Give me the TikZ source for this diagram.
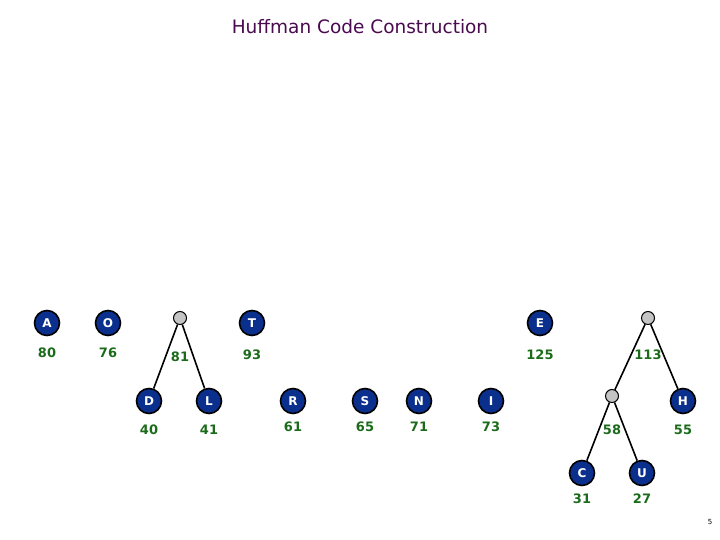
\documentclass[tikz,border=0pt]{standalone}
\usepackage{fontspec}
\setmainfont{DejaVu Sans}
\definecolor{navy}{HTML}{0A2F8C}
\definecolor{num}{HTML}{1B6B1B}
\definecolor{ttl}{HTML}{4A0A50}
\definecolor{gry}{HTML}{C4C4C4}
\begin{document}
\begin{tikzpicture}[x=1pt,y=-1pt,
  leaf/.style={circle,fill=navy,draw=black,line width=1.6pt,minimum size=25pt,inner sep=0pt,text=white,font=\bfseries\fontsize{12}{12}\selectfont},
  inner/.style={circle,fill=gry,draw=black,line width=1pt,minimum size=13pt,inner sep=0pt},
  wt/.style={text=num,font=\bfseries\fontsize{13}{13}\selectfont},
  edge/.style={draw=black,line width=1.6pt}]
\useasboundingbox (0,0) rectangle (720,540);
\node[text=ttl,font=\fontsize{18.5}{18.5}\selectfont] (title) at (360,27) {Huffman Code Construction};
% top row
\node[leaf] (A) at (47,323) {A};   \node[wt] (wA) at (47,353) {80};
\node[leaf] (O) at (108,323) {O};  \node[wt] (wO) at (108,353) {76};
\node[inner] (n81) at (180,318) {}; \node[wt] (w81) at (180,357) {81};
\node[leaf] (T) at (252,323) {T};  \node[wt] (wT) at (252,355) {93};
\node[leaf] (E) at (540,323) {E};  \node[wt] (wE) at (540,355) {125};
\node[inner] (n113) at (648,318) {}; \node[wt] (w113) at (648,355) {113};
% second row
\node[leaf] (D) at (149,401) {D};  \node[wt] (wD) at (149,430) {40};
\node[leaf] (L) at (209,401) {L};  \node[wt] (wL) at (209,430) {41};
\node[leaf] (R) at (293,401) {R};  \node[wt] (wR) at (293,427) {61};
\node[leaf] (S) at (365,401) {S};  \node[wt] (wS) at (365,427) {65};
\node[leaf] (N) at (419,401) {N};  \node[wt] (wN) at (419,427) {71};
\node[leaf] (I) at (491,401) {I};  \node[wt] (wI) at (491,427) {73};
\node[inner] (n58) at (612,396) {}; \node[wt] (w58) at (612,430) {58};
\node[leaf] (H) at (683,401) {H};  \node[wt] (wH) at (683,430) {55};
% third row
\node[leaf] (C) at (582,473) {C};  \node[wt] (wC) at (582,499) {31};
\node[leaf] (U) at (642,473) {U};  \node[wt] (wU) at (642,499) {27};
\node[font=\fontsize{7}{7}\selectfont] (pg) at (710,522) {5};
% edges
\draw[edge] (n81) -- (D);
\draw[edge] (n81) -- (L);
\draw[edge] (n113) -- (n58);
\draw[edge] (n113) -- (H);
\draw[edge] (n58) -- (C);
\draw[edge] (n58) -- (U);
\end{tikzpicture}
\end{document}
